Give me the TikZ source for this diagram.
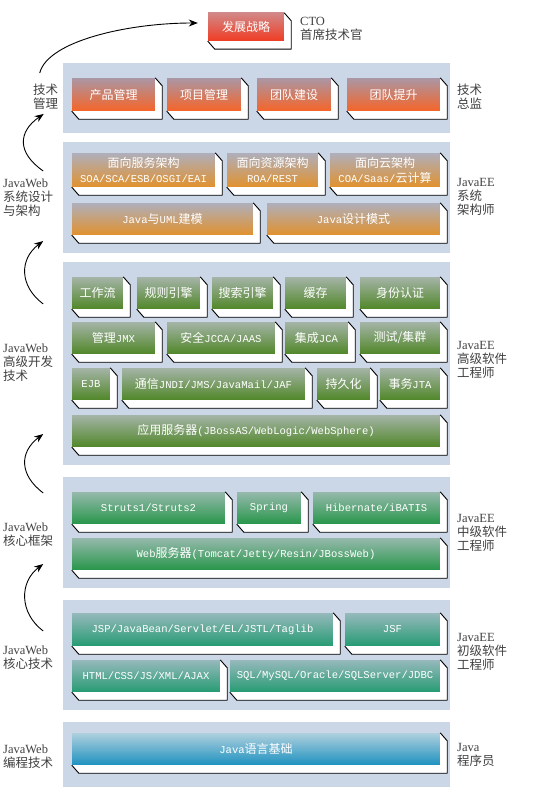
\documentclass[tikz,border=0pt]{standalone}
\usepackage{fontspec}
\setmainfont{Liberation Serif}
\newfontfamily\cjk{Noto Sans CJK SC}
\newfontfamily\boxmono[Scale=0.88]{Liberation Mono}
\newcommand{\zh}[1]{{\cjk #1}}
\usetikzlibrary{arrows.meta}

\definecolor{panelbg}{RGB}{203,214,230}
\definecolor{labelgray}{RGB}{65,65,65}

\tikzset{
	panel/.style={fill=panelbg},
	slab/.style={inner sep=0pt, text=white, align=center, font=\fontsize{12}{15}\selectfont\boxmono},
	ceobox/.style={slab, top color={rgb,255:red,210;green,135;blue,135}, bottom color={rgb,255:red,240;green,60;blue,35}},
	mgmtbox/.style={slab, top color={rgb,255:red,170;green,150;blue,165}, bottom color={rgb,255:red,245;green,100;blue,40}},
	archbox/.style={slab, top color={rgb,255:red,175;green,175;blue,188}, bottom color={rgb,255:red,225;green,145;blue,45}},
	seniorbox/.style={slab, top color={rgb,255:red,165;green,180;blue,168}, bottom color={rgb,255:red,80;green,135;blue,40}},
	midbox/.style={slab, top color={rgb,255:red,150;green,185;blue,172}, bottom color={rgb,255:red,40;green,150;blue,75}},
	juniorbox/.style={slab, top color={rgb,255:red,150;green,185;blue,188}, bottom color={rgb,255:red,38;green,155;blue,115}},
	basebox/.style={slab, top color={rgb,255:red,175;green,208;blue,222}, bottom color={rgb,255:red,30;green,145;blue,192}},
	lvl/.style={anchor=west, align=left, inner sep=0pt, text=labelgray, font=\fontsize{12.5}{14}\selectfont},
	climb/.style={-{Stealth[length=9pt,width=7pt]}, line width=0.9pt},
	rim/.style={line width=0.9pt, line join=round},
}

\begin{document}
\begin{tikzpicture}[x=1pt, y=-1pt]
	\useasboundingbox (0,0) rectangle (534,800);
	\fill[white] (0,0) rectangle (534,800);

	\fill[panel] (63,63) rectangle (450,133);
	\fill[panel] (63,142) rectangle (450,253);
	\fill[panel] (63,262) rectangle (450,465);
	\fill[panel] (63,477) rectangle (450,588);
	\fill[panel] (63,600) rectangle (450,710);
	\fill[panel] (63,722) rectangle (450,787);

	\node[ceobox, minimum width=76, minimum height=28] (ceo) at (246,27) {\zh{发展战略}};

	\node[mgmtbox, minimum width=83, minimum height=33] (pm) at (113.5,94.5) {\zh{产品管理}};
	\node[mgmtbox, minimum width=74, minimum height=33] (proj) at (204,94.5) {\zh{项目管理}};
	\node[mgmtbox, minimum width=74, minimum height=33] (team) at (294,94.5) {\zh{团队建设}};
	\node[mgmtbox, minimum width=93, minimum height=33] (grow) at (393.5,94.5) {\zh{团队提升}};

	\node[archbox, minimum width=143, minimum height=34] (soa) at (143.5,170) {\zh{面向服务架构}\\SOA/SCA/ESB/OSGI/EAI};
	\node[archbox, minimum width=91, minimum height=34] (roa) at (272.5,170) {\zh{面向资源架构}\\ROA/REST};
	\node[archbox, minimum width=110, minimum height=34] (coa) at (385,170) {\zh{面向云架构}\\COA/Saas/\zh{云计算}};
	\node[archbox, minimum width=181, minimum height=32] (uml) at (162.5,219) {Java\zh{与}UML\zh{建模}};
	\node[archbox, minimum width=173, minimum height=32] (pattern) at (353.5,219) {Java\zh{设计模式}};

	\node[seniorbox, minimum width=51, minimum height=32] (flow) at (97.5,293) {\zh{工作流}};
	\node[seniorbox, minimum width=63, minimum height=32] (rule) at (168.5,293) {\zh{规则引擎}};
	\node[seniorbox, minimum width=61, minimum height=32] (search) at (242.5,293) {\zh{搜索引擎}};
	\node[seniorbox, minimum width=61, minimum height=32] (cache) at (315.5,293) {\zh{缓存}};
	\node[seniorbox, minimum width=80, minimum height=32] (auth) at (400,293) {\zh{身份认证}};
	\node[seniorbox, minimum width=83, minimum height=32] (jmx) at (113.5,338) {\zh{管理}JMX};
	\node[seniorbox, minimum width=108, minimum height=32] (sec) at (221,338) {\zh{安全}JCCA/JAAS};
	\node[seniorbox, minimum width=63, minimum height=32] (jca) at (316.5,338) {\zh{集成}JCA};
	\node[seniorbox, minimum width=80, minimum height=32] (test) at (400,338) {\zh{测试/集群}};
	\node[seniorbox, minimum width=38, minimum height=32] (ejb) at (91,384) {EJB};
	\node[seniorbox, minimum width=183, minimum height=32] (comm) at (213.5,384) {\zh{通信}JNDI/JMS/JavaMail/JAF};
	\node[seniorbox, minimum width=53, minimum height=32] (persist) at (343.5,384) {\zh{持久化}};
	\node[seniorbox, minimum width=60, minimum height=32] (jta) at (410,384) {\zh{事务}JTA};
	\node[seniorbox, minimum width=368, minimum height=32] (appsrv) at (256,431) {\zh{应用服务器}(JBossAS/WebLogic/WebSphere)};

	\node[midbox, minimum width=153, minimum height=32] (struts) at (148.5,508) {Struts1/Struts2};
	\node[midbox, minimum width=64, minimum height=32] (spring) at (269,508) {Spring};
	\node[midbox, minimum width=127, minimum height=32] (hib) at (376.5,508) {Hibernate/iBATIS};
	\node[midbox, minimum width=368, minimum height=32] (websrv) at (256,554) {Web\zh{服务器}(Tomcat/Jetty/Resin/JBossWeb)};

	\node[juniorbox, minimum width=261, minimum height=33] (jsp) at (202.5,629.5) {JSP/JavaBean/Servlet/EL/JSTL/Taglib};
	\node[juniorbox, minimum width=95, minimum height=33] (jsf) at (392.5,629.5) {JSF};
	\node[juniorbox, minimum width=148, minimum height=32] (html) at (146,676) {HTML/CSS/JS/XML/AJAX};
	\node[juniorbox, minimum width=210, minimum height=32] (sql) at (335,676) {SQL/MySQL/Oracle/SQLServer/JDBC};

	\node[basebox, minimum width=368, minimum height=32] (base) at (256,749) {Java\zh{语言基础}};

	\foreach \n in {ceo,pm,proj,team,grow,soa,roa,coa,uml,pattern,flow,rule,search,cache,auth,jmx,sec,jca,test,ejb,comm,persist,jta,appsrv,struts,spring,hib,websrv,jsp,jsf,html,sql,base} {
		\fill[white] (\n.north east) -- ++(7,8) -- ([shift={(7,8)}]\n.south east) -- ([shift={(7,8)}]\n.south west) -- (\n.south west) -- (\n.south east) -- cycle;
		\draw[rim] (\n.north east) -- ++(7,8) -- ([shift={(7,8)}]\n.south east) -- ([shift={(7,8)}]\n.south west) -- (\n.south west);
	}

	\node[lvl] (lblCto) at (300,29) {CTO\\\zh{首席技术官}};
	\node[lvl] (lblDir) at (457,97) {\zh{技术}\\\zh{总监}};
	\node[lvl] (lblArchitect) at (457,197) {JavaEE\\\zh{系统}\\\zh{架构师}};
	\node[lvl] (lblSenior) at (457,360) {JavaEE\\\zh{高级软件}\\\zh{工程师}};
	\node[lvl] (lblMiddle) at (457,533) {JavaEE\\\zh{中级软件}\\\zh{工程师}};
	\node[lvl] (lblJunior) at (457,652) {JavaEE\\\zh{初级软件}\\\zh{工程师}};
	\node[lvl] (lblCoder) at (457,755) {Java\\\zh{程序员}};

	\node[lvl] (lblMgmt) at (33,97) {\zh{技术}\\\zh{管理}};
	\node[lvl] (lblArch) at (3,198) {JavaWeb\\\zh{系统设计}\\\zh{与架构}};
	\node[lvl] (lblAdv) at (3,363) {JavaWeb\\\zh{高级开发}\\\zh{技术}};
	\node[lvl] (lblFrame) at (3,535) {JavaWeb\\\zh{核心框架}};
	\node[lvl] (lblCore) at (3,658) {JavaWeb\\\zh{核心技术}};
	\node[lvl] (lblBase) at (3,757) {JavaWeb\\\zh{编程技术}};

	\draw[climb] ([shift={(-6,-11)}]lblMgmt.north) .. controls +(8,-32) and +(-70,0) .. ([shift={(-10,-4)}]ceo.west);
	\draw[climb] ([shift={(15,-8)}]lblArch.north) .. controls +(-26,-18) and +(-26,18) .. ([shift={(-2,4)}]lblMgmt.south);
	\draw[climb] ([shift={(15,-40)}]lblAdv.north) .. controls +(-24,-18) and +(-24,18) .. ([shift={(15,24)}]lblArch.south);
	\draw[climb] ([shift={(15,-30)}]lblFrame.north) .. controls +(-24,-18) and +(-24,18) .. ([shift={(15,52)}]lblAdv.south);
	\draw[climb] ([shift={(15,-15)}]lblCore.north) .. controls +(-24,-18) and +(-24,18) .. ([shift={(15,17)}]lblFrame.south);

\end{tikzpicture}
\end{document}
